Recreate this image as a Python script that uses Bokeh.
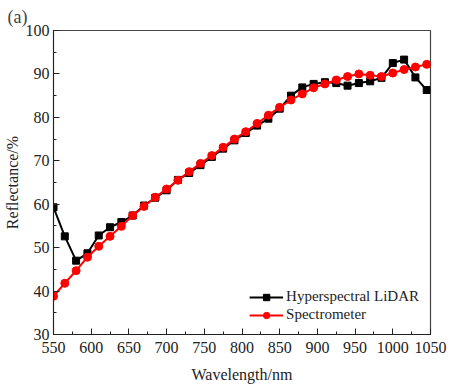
from bokeh.plotting import figure
from bokeh.models import Range1d, FixedTicker
from bokeh.embed import file_html
from bokeh.resources import INLINE

wavelength = [550, 565, 580, 595, 610, 625, 640, 655, 670, 685, 700, 715, 730, 745,
              760, 775, 790, 805, 820, 835, 850, 865, 880, 895, 910, 925, 940, 955,
              970, 985, 1000, 1015, 1030, 1045]
lidar = [59.3, 52.6, 47.0, 48.7, 52.8, 54.7, 55.9, 57.4, 59.7, 61.5, 63.2, 65.6, 67.2, 69.0,
         70.9, 72.8, 74.7, 76.4, 78.1, 79.7, 82.0, 85.0, 86.9, 87.7, 88.1, 87.9, 87.3, 87.9,
         88.3, 89.1, 92.5, 93.3, 89.2, 86.3]
spectro = [38.8, 41.8, 44.7, 47.8, 50.3, 52.6, 54.9, 57.4, 59.5, 61.6, 63.5, 65.5, 67.5, 69.4,
           71.2, 73.1, 75.0, 76.7, 78.6, 80.5, 82.3, 84.0, 85.4, 86.8, 87.7, 88.6, 89.4, 90.0,
           89.7, 89.4, 90.2, 91.0, 91.6, 92.2]
x_ticks = [550, 600, 650, 700, 750, 800, 850, 900, 950, 1000, 1050]
y_ticks = [30, 40, 50, 60, 70, 80, 90, 100]

FONT = "Liberation Serif"

p = figure(frame_width=377, frame_height=304, output_backend="svg", toolbar_location=None,
           x_range=Range1d(550, 1050), y_range=Range1d(30, 100),
           min_border_left=45, min_border_right=17, min_border_bottom=40, min_border_top=22,
           title="(a)")
p.title.text_font = FONT
p.title.text_font_size = "18px"
p.title.text_font_style = "normal"
p.title.align = "left"
p.title.offset = -46
p.title.standoff = 8

p.grid.visible = False
p.outline_line_color = "#444444"
p.outline_line_width = 1.2

for ax in (p.xaxis[0], p.yaxis[0]):
    ax.major_tick_in = 6
    ax.major_tick_out = 0
    ax.minor_tick_in = 3
    ax.minor_tick_out = 0
    ax.axis_line_color = "#222222"
    ax.major_tick_line_color = "#222222"
    ax.minor_tick_line_color = "#222222"
    ax.major_label_text_font = FONT
    ax.major_label_text_font_size = "16px"
    ax.major_label_text_color = "#222222"
    ax.axis_label_text_font = FONT
    ax.axis_label_text_font_size = "16px"
    ax.axis_label_text_font_style = "normal"
    ax.axis_label_text_color = "#222222"

p.xaxis.major_label_standoff = 7
p.xaxis.axis_label_standoff = 10
p.yaxis.major_label_standoff = 4
p.yaxis.axis_label_standoff = 2

p.xaxis.ticker = FixedTicker(ticks=x_ticks, minor_ticks=list(range(550, 1051, 25)))
p.yaxis.ticker = FixedTicker(ticks=y_ticks, minor_ticks=list(range(30, 101, 5)))
p.xaxis.axis_label = "Wavelength/nm"
p.yaxis.axis_label = "Reflectance/%"

p.line(wavelength, lidar, color="black", line_width=2, legend_label="Hyperspectral LiDAR")
p.scatter(wavelength, lidar, marker="square", size=7, color="black", legend_label="Hyperspectral LiDAR")
p.line(wavelength, spectro, color="#ff0000", line_width=2, legend_label="Spectrometer")
p.scatter(wavelength, spectro, marker="circle", size=8, color="#ff0000", legend_label="Spectrometer")

p.legend.location = "bottom_right"
p.legend.border_line_color = None
p.legend.background_fill_alpha = 0
p.legend.label_text_font = FONT
p.legend.label_text_font_size = "15px"
p.legend.label_text_color = "#222222"
p.legend.glyph_width = 34
p.legend.glyph_height = 16
p.legend.label_standoff = 3
p.legend.spacing = 1
p.legend.padding = 5
p.legend.margin = 11
p.legend.label_height = 16

open("out.html", "w").write(file_html(p, INLINE))
